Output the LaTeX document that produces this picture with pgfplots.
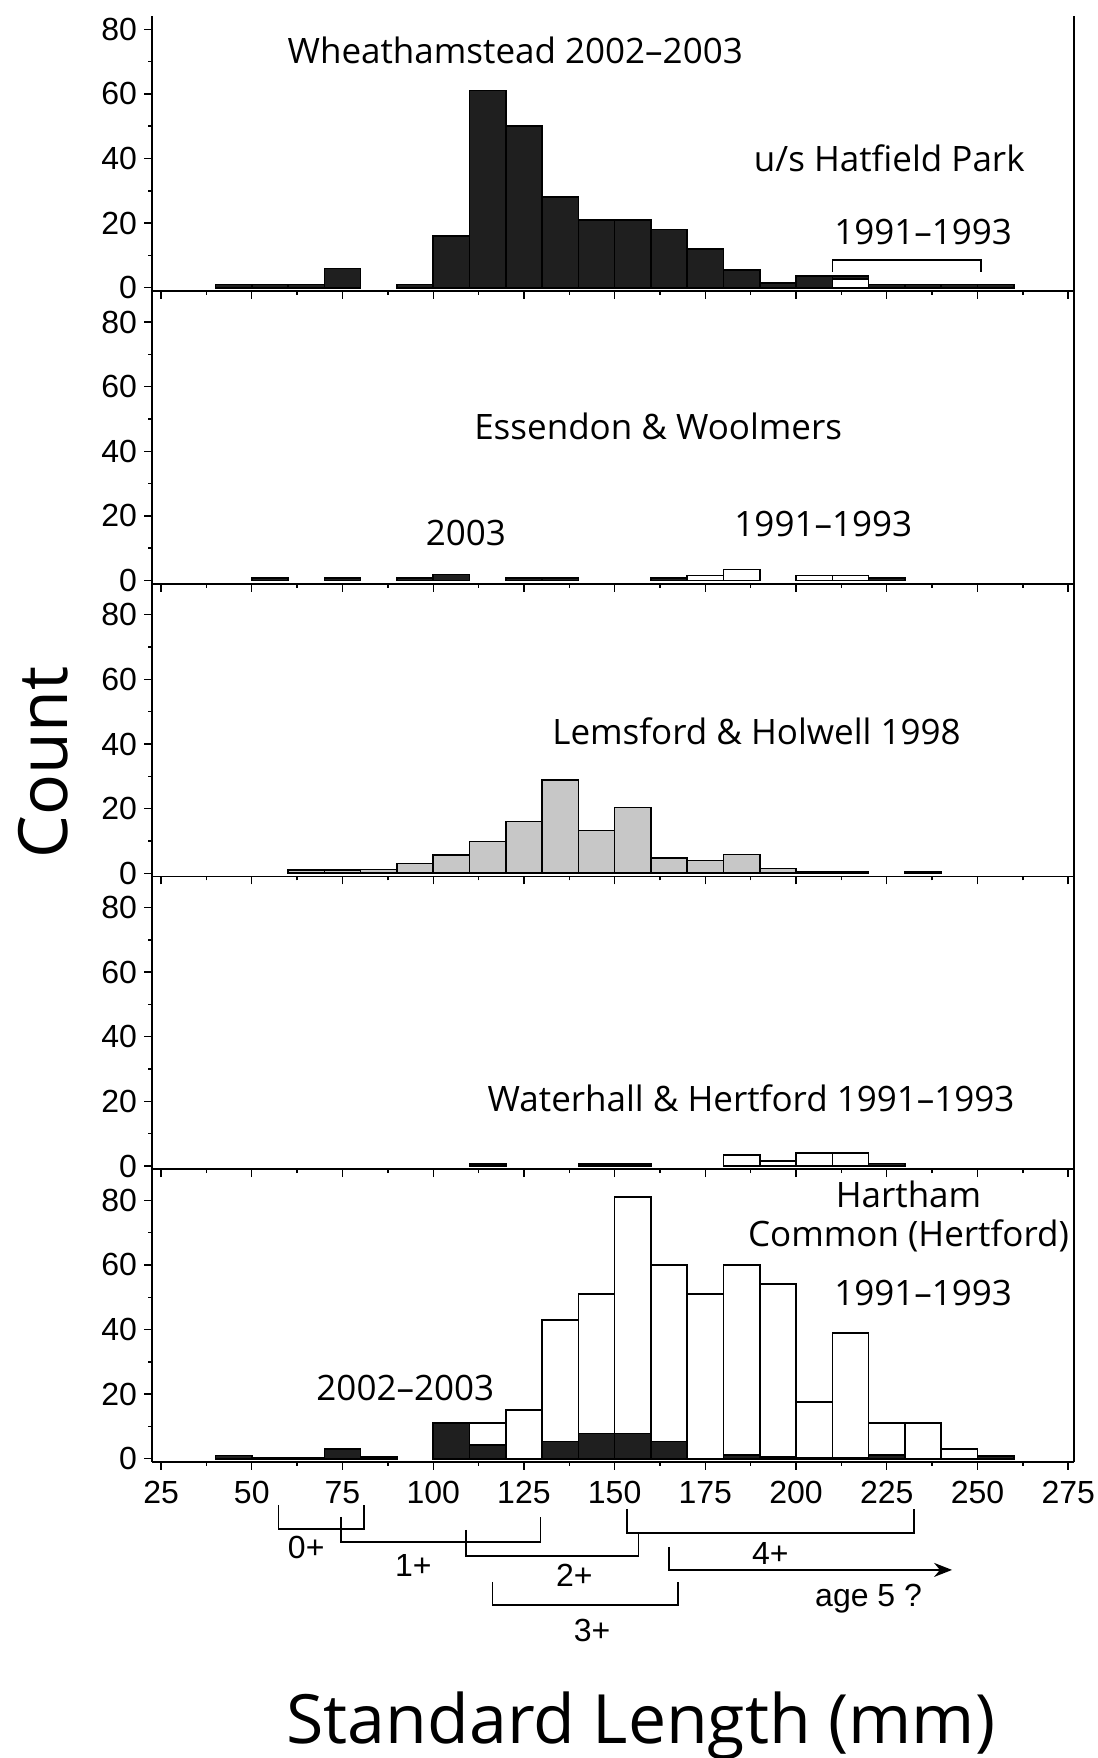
\documentclass[border=0pt]{standalone}
\usepackage{fontspec}
\setmainfont{Open Sans}
\newfontfamily\arialfont{Liberation Sans}
\usepackage{pgfplots}
\pgfplotsset{compat=1.18}
\usetikzlibrary{arrows.meta}

\pgfplotsset{
  panel/.style={
    scale only axis, width=461pt, anchor=south west,
    xmin=22.5, xmax=276.6, ymin=-1,
    axis x line=bottom, axis y line=left,
    axis line style={line width=0.9pt, -},
    xtick={25,50,...,275}, minor x tick num=1,
    ytick={0,20,...,80}, minor y tick num=1,
    tick align=outside,
    major tick length=4pt, minor tick length=2pt,
    every tick/.style={black, line width=0.7pt},
    tick label style={font=\arialfont\fontsize{16}{18}\selectfont},
    xticklabel style={yshift=-2pt},
    /pgf/number format/assume math mode=true,
    clip=false,
  },
  blk/.style={ybar, bar width=10, bar shift=0pt, fill=black!88, draw=black, line width=0.8pt},
  wht/.style={ybar, bar width=10, bar shift=0pt, fill=white, draw=black, line width=0.8pt},
  gry/.style={ybar, bar width=10, bar shift=0pt, fill=black!22, draw=black, line width=0.8pt},
}
\tikzset{
  lab/.style={font=\fontsize{17.5}{20}\selectfont, inner sep=0pt},
  ann/.style={font=\arialfont\fontsize{16}{18}\selectfont, inner sep=0pt},
  br/.style={line width=0.8pt},
}

\begin{document}
\begin{tikzpicture}
\path[use as bounding box] (0,0) rectangle (549pt,879pt);

% ---------- Panel 1: Wheathamstead ----------
\begin{axis}[panel, at={(76pt,733.5pt)}, height=137.5pt, ymax=84.1, xticklabels={}]
\addplot[blk] coordinates {(45,1) (55,1) (65,1) (75,6) (95,1) (105,16) (115,61) (125,50)
  (135,28) (145,21) (155,21) (165,18) (175,12) (185,5.5) (195,1.5) (205,3.7) (215,3.7)
  (225,1) (235,1) (245,1) (255,1)};
\addplot[wht] coordinates {(215,2.8)};
\draw[line width=0.9pt] (rel axis cs:1,0) -- (rel axis cs:1,1);
\node[lab] at (axis cs:122.6,73.4) {Wheathamstead 2002–2003};
\node[lab] at (axis cs:225.7,40.2) {u/s Hatfield Park};
\node[lab] at (axis cs:235,17.3) {1991–1993};
\draw[br] (axis cs:210,4.9) -- (axis cs:210,8.6) -- (axis cs:251,8.6) -- (axis cs:251,4.9);
\end{axis}

% ---------- Panel 2: Essendon & Woolmers ----------
\begin{axis}[panel, at={(76pt,587.125pt)}, height=146.375pt, ymax=89.6, xticklabels={}]
\addplot[blk] coordinates {(55,0.8) (75,0.8) (95,0.8) (105,1.8) (125,0.8) (135,0.8)
  (165,0.8) (225,0.8)};
\addplot[wht] coordinates {(175,1.6) (185,3.4) (205,1.6) (215,1.6)};
\draw[line width=0.9pt] (rel axis cs:1,0) -- (rel axis cs:1,1);
\node[lab] at (axis cs:162,47.8) {Essendon \& Woolmers};
\node[lab] at (axis cs:109,14.7) {2003};
\node[lab] at (axis cs:207.5,17.5) {1991–1993};
\end{axis}

% ---------- Panel 3: Lemsford & Holwell ----------
\begin{axis}[panel, at={(76pt,440.75pt)}, height=146.375pt, ymax=89.6, xticklabels={}]
\addplot[gry] coordinates {(65,1) (75,1) (85,1.2) (95,3) (105,5.7) (115,9.8) (125,16)
  (135,28.8) (145,13.2) (155,20.3) (165,4.8) (175,3.9) (185,5.8) (195,1.5) (205,0.5)
  (215,0.5) (235,0.5)};
\draw[line width=0.9pt] (rel axis cs:1,0) -- (rel axis cs:1,1);
\node[lab] at (axis cs:189.1,44) {Lemsford \& Holwell 1998};
\end{axis}

% ---------- Panel 4: Waterhall & Hertford ----------
\begin{axis}[panel, at={(76pt,294.375pt)}, height=146.375pt, ymax=89.6, xticklabels={}]
\addplot[wht] coordinates {(185,3.4) (195,1.6) (205,4.1) (215,4.1)};
\addplot[blk] coordinates {(115,0.7) (145,0.7) (155,0.7) (225,0.8)};
\draw[line width=0.9pt] (rel axis cs:1,0) -- (rel axis cs:1,1);
\node[lab] at (axis cs:187.6,21) {Waterhall \& Hertford 1991–1993};
\end{axis}

% ---------- Panel 5: Hartham Common ----------
\begin{axis}[panel, at={(76pt,148pt)}, height=146.375pt, ymax=89.6]
\addplot[wht] coordinates {(115,11) (125,15) (135,43) (145,51) (155,81) (165,60) (175,51)
  (185,60) (195,54) (205,17.5) (215,39) (225,11) (235,11) (245,3)};
\addplot[blk] coordinates {(45,1) (55,0.4) (65,0.4) (75,3) (85,0.5) (105,11) (115,4.3)
  (135,5.3) (145,7.8) (155,7.8) (165,5.3) (185,1.2) (195,0.5) (205,0.4) (215,0.4)
  (225,1.2) (255,0.8)};
\draw[line width=0.9pt] (rel axis cs:1,0) -- (rel axis cs:1,1);
\node[lab] at (axis cs:231,81.8) {Hartham};
\node[lab] at (axis cs:231,69) {Common (Hertford)};
\node[lab] at (axis cs:235,51.3) {1991–1993};
\node[lab] at (axis cs:92.3,21.8) {2002–2003};
% age-class brackets
\draw[br] (axis cs:57.4,-14.3) -- (axis cs:57.4,-21.7) -- (axis cs:81,-21.7) -- (axis cs:81,-14.3);
\node[ann] at (axis cs:65,-27.6) {0+};
\draw[br] (axis cs:74.6,-18) -- (axis cs:74.6,-25.8) -- (axis cs:129.6,-25.8) -- (axis cs:129.6,-18);
\node[ann] at (axis cs:94.5,-32.9) {1+};
\draw[br] (axis cs:153.4,-15.5) -- (axis cs:153.4,-23) -- (axis cs:232.5,-23) -- (axis cs:232.5,-15.5);
\node[ann] at (axis cs:192.9,-29.2) {4+};
\draw[br] (axis cs:109,-22) -- (axis cs:109,-30.1) -- (axis cs:156.6,-30.1) -- (axis cs:156.6,-23);
\node[ann] at (axis cs:138.9,-36) {2+};
\draw[br] (axis cs:116.3,-38.1) -- (axis cs:116.3,-45.2) -- (axis cs:167.5,-45.2) -- (axis cs:167.5,-38.1);
\node[ann] at (axis cs:143.8,-53) {3+};
\draw[br, -{Stealth[length=9pt,width=7pt]}] (axis cs:165,-27.3) -- (axis cs:165,-34.4) -- (axis cs:243,-34.4);
\node[ann] at (axis cs:220,-43.4) {age 5 ?};
\end{axis}

\node[rotate=90, anchor=base, font=\fontsize{34}{40}\selectfont] at (33.5pt,497.75pt) {Count};
\node[anchor=base, font=\fontsize{34}{40}\selectfont] at (320.5pt,7.5pt) {Standard Length (mm)};
\end{tikzpicture}
\end{document}
